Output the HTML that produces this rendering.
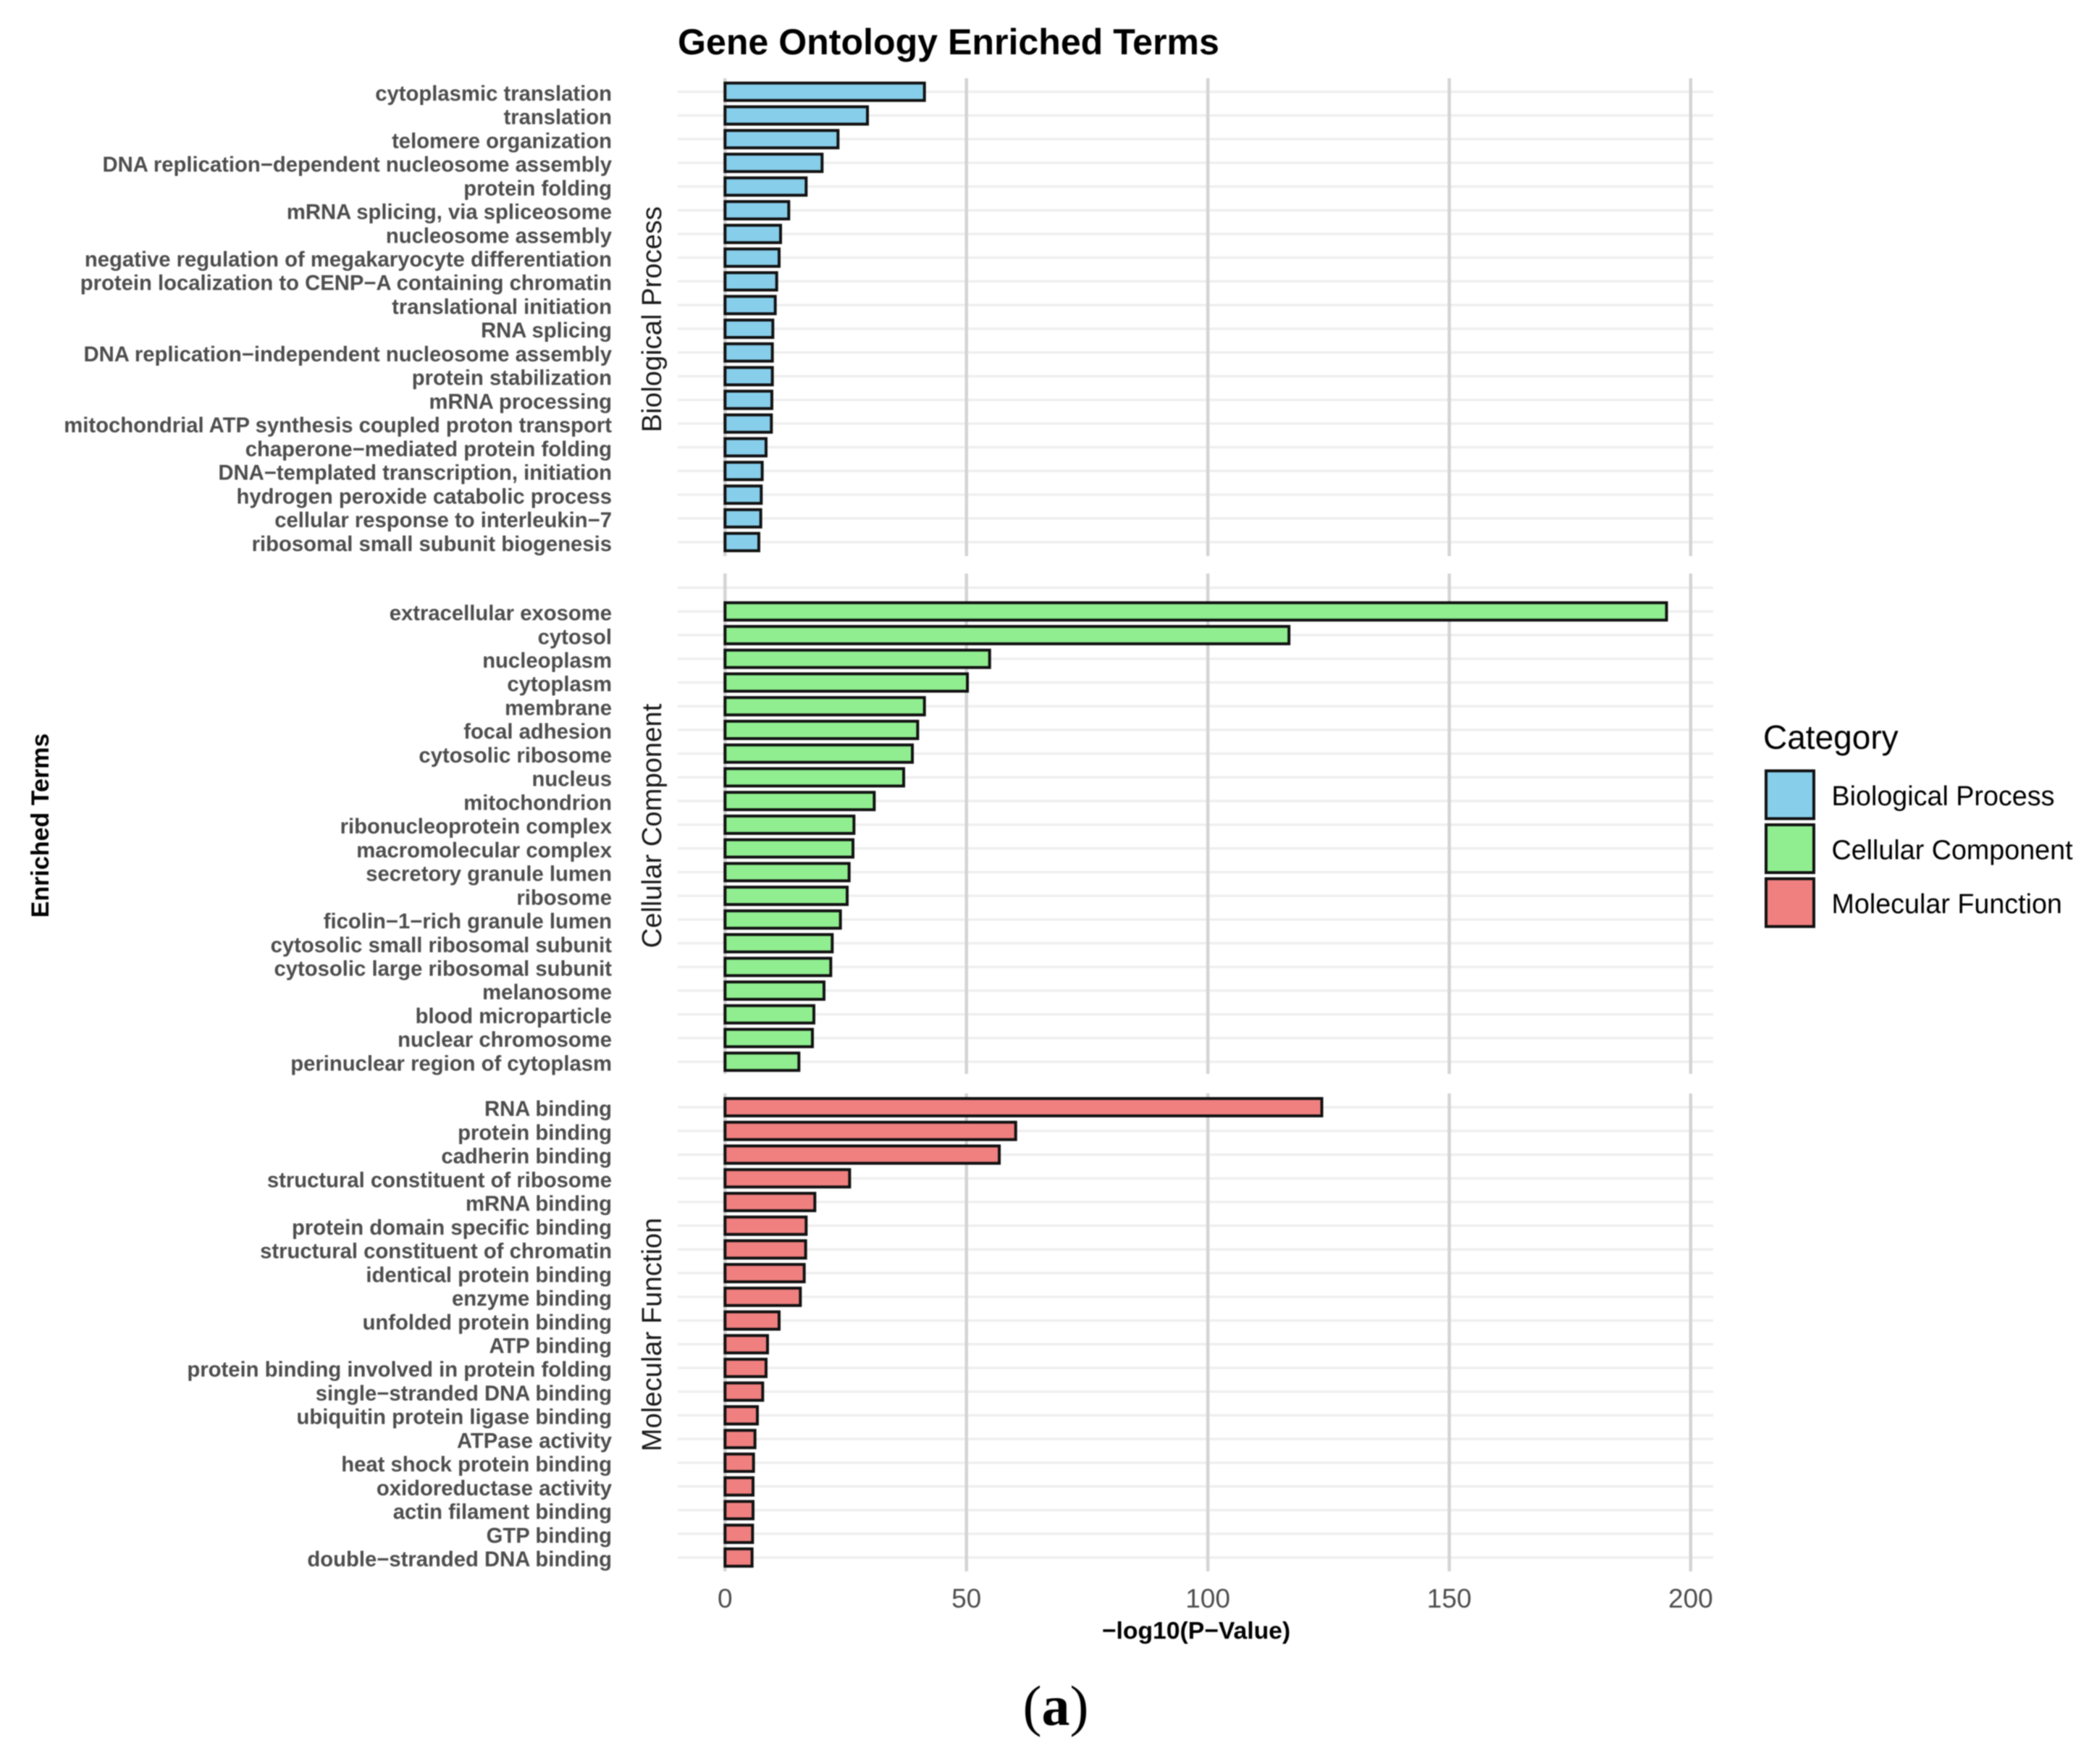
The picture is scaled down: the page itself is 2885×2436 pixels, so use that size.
<!DOCTYPE html>
<html lang="en">
<head>
<meta charset="utf-8">
<title>Gene Ontology Enriched Terms</title>
<style>
html,body{margin:0;padding:0;background:#fff;}
svg{display:block;filter:blur(0.8px);}
text{font-family:"Liberation Sans",sans-serif;}
</style>
</head>
<body>
<svg id="chart" xmlns="http://www.w3.org/2000/svg" width="2885" height="2436" viewBox="0 0 2885 2436">
<rect width="2885" height="2436" fill="#ffffff"/>
<text x="936" y="75" font-size="50.1" font-weight="700" fill="#000000">Gene Ontology Enriched Terms</text>
<text transform="translate(67,1140) rotate(-90)" text-anchor="middle" font-size="34" font-weight="700" fill="#000000">Enriched Terms</text>
<text x="1652" y="2263" text-anchor="middle" font-size="33.7" font-weight="700" fill="#000000">−log10(P−Value)</text>
<text x="2435" y="1034" font-size="46" fill="#000000">Category</text>
<text x="1458" y="2382" text-anchor="middle" font-size="78" fill="#000000" style="font-family:'Liberation Serif',serif">(<tspan font-weight="700">a</tspan>)</text>
<g id="grid"></g>
<g id="bars"></g>
<g id="labels"></g>
<g id="ticks"></g>
<g id="legend"></g>
</svg>
<script>
const bpTerms = ["cytoplasmic translation","translation","telomere organization","DNA replication−dependent nucleosome assembly","protein folding","mRNA splicing, via spliceosome","nucleosome assembly","negative regulation of megakaryocyte differentiation","protein localization to CENP−A containing chromatin","translational initiation","RNA splicing","DNA replication−independent nucleosome assembly","protein stabilization","mRNA processing","mitochondrial ATP synthesis coupled proton transport","chaperone−mediated protein folding","DNA−templated transcription, initiation","hydrogen peroxide catabolic process","cellular response to interleukin−7","ribosomal small subunit biogenesis"];
const bpValues = [41.3,29.5,23.4,20.1,16.8,13.2,11.5,11.2,10.7,10.4,9.9,9.8,9.8,9.7,9.6,8.5,7.7,7.5,7.4,7];
const ccTerms = ["extracellular exosome","cytosol","nucleoplasm","cytoplasm","membrane","focal adhesion","cytosolic ribosome","nucleus","mitochondrion","ribonucleoprotein complex","macromolecular complex","secretory granule lumen","ribosome","ficolin−1−rich granule lumen","cytosolic small ribosomal subunit","cytosolic large ribosomal subunit","melanosome","blood microparticle","nuclear chromosome","perinuclear region of cytoplasm"];
const ccValues = [195,116.8,54.8,50.2,41.3,39.9,38.8,37,30.9,26.7,26.5,25.7,25.3,23.9,22.2,21.9,20.5,18.4,18.1,15.3];
const mfTerms = ["RNA binding","protein binding","cadherin binding","structural constituent of ribosome","mRNA binding","protein domain specific binding","structural constituent of chromatin","identical protein binding","enzyme binding","unfolded protein binding","ATP binding","protein binding involved in protein folding","single−stranded DNA binding","ubiquitin protein ligase binding","ATPase activity","heat shock protein binding","oxidoreductase activity","actin filament binding","GTP binding","double−stranded DNA binding"];
const mfValues = [123.6,60.2,56.8,25.8,18.6,16.8,16.7,16.4,15.6,11.2,8.8,8.5,7.8,6.7,6.2,5.9,5.8,5.8,5.7,5.6];
const xTicks = [0,50,100,150,200];
const categoryNames = ["Biological Process","Cellular Component","Molecular Function"];

const NS = "http://www.w3.org/2000/svg";
const ROW = 32.73;
const X0 = 1001.3, PX_PER_UNIT = 6.668;
const GRID_LEFT = 936, GRID_RIGHT = 2366;
const BAR_H = 24;
function xScale(v){ return X0 + v * PX_PER_UNIT; }
function rowY(panel, i){ return panel.firstRow + (i + panel.blank) * ROW; }
function mk(tag, attrs, parent){
  const el = document.createElementNS(NS, tag);
  for (const k in attrs) el.setAttribute(k, attrs[k]);
  parent.appendChild(el);
  return el;
}
const panels = [
  {key:"biological-process", name:categoryNames[0], terms:bpTerms, values:bpValues, color:"#87CEEB", top:108, bottom:768, firstRow:126.7, blank:0},
  {key:"cellular-component", name:categoryNames[1], terms:ccTerms, values:ccValues, color:"#90EE90", top:792, bottom:1483, firstRow:811.6, blank:1},
  {key:"molecular-function", name:categoryNames[2], terms:mfTerms, values:mfValues, color:"#F08080", top:1510, bottom:2170, firstRow:1529, blank:0}
];
const gridG = document.getElementById("grid");
const barsG = document.getElementById("bars");
const labelsG = document.getElementById("labels");
const ticksG = document.getElementById("ticks");
const legendG = document.getElementById("legend");

panels.forEach(function(p){
  const rows = p.terms.length + p.blank;
  for (let r = 0; r < rows; r++){
    const y = p.firstRow + r * ROW;
    const line = mk("line",{x1:GRID_LEFT,x2:GRID_RIGHT,y1:y,y2:y,stroke:"#efefef","stroke-width":3.5},gridG);
    
    
  }
  xTicks.forEach(function(t){
    const line = mk("line",{x1:xScale(t),x2:xScale(t),y1:p.top,y2:p.bottom,stroke:"#d4d4d4","stroke-width":4.5},gridG);
    
    
  });
  p.values.forEach(function(v,i){
    const y = rowY(p,i);
    const bar = mk("rect",{x:xScale(0),y:y-BAR_H/2,width:xScale(v)-xScale(0),height:BAR_H,fill:p.color,stroke:"#111111","stroke-width":4},barsG);
    
    
  });
  p.terms.forEach(function(term,i){
    const y = rowY(p,i);
    const label = mk("text",{x:845,y:y+12.2,"text-anchor":"end","font-size":29.25,"font-weight":700,fill:"#4d4d4d"},labelsG);
    
    
    label.textContent = term;
  });
  const cy = (p.top + p.bottom) / 2 + 3;
  const strip = mk("text",{transform:"translate(913,"+cy+") rotate(-90)","text-anchor":"middle","font-size":38.2,fill:"#1a1a1a"},labelsG);
  
  
  strip.textContent = p.name;
});

xTicks.forEach(function(t){
  const label = mk("text",{x:xScale(t),y:2220,"text-anchor":"middle","font-size":37,fill:"#4d4d4d"},ticksG);
  
  
  label.textContent = t;
});

panels.forEach(function(p,i){
  const top = 1064.5 + i * 74.5;
  const key = mk("rect",{x:2439,y:top,width:66,height:66,fill:p.color,stroke:"#111111","stroke-width":4},legendG);
  
  
  const label = mk("text",{x:2529.5,y:top+47.5,"font-size":37.7,fill:"#000000"},legendG);
  
  
  label.textContent = p.name;
});
</script>
</body>
</html>
